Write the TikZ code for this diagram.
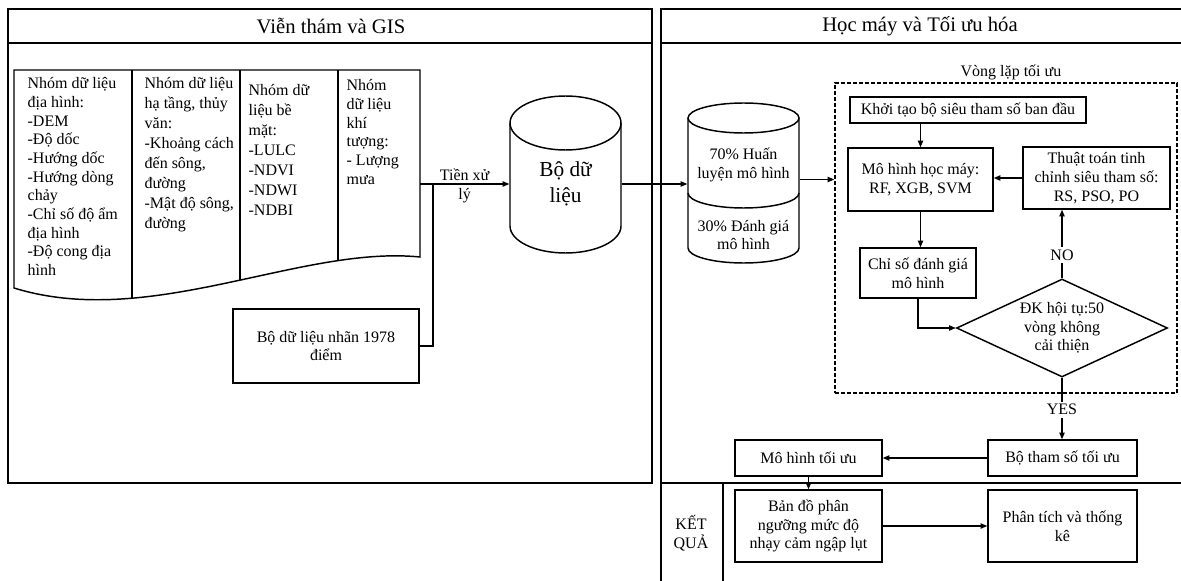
\documentclass[tikz,border=0pt]{standalone}
\usepackage{fontspec}
\setmainfont{Liberation Serif}
\usetikzlibrary{arrows.meta,shapes.geometric}

\begin{document}
\begin{tikzpicture}[x=0.75pt, y=-0.75pt, line width=1pt,
    box/.style={draw, rectangle, line width=1.1pt, inner sep=0pt, align=center, font=\fontsize{12}{14}\selectfont},
    coltext/.style={anchor=north west, inner sep=0pt, align=left},
    txt/.style={inner sep=0pt, align=center, font=\fontsize{12}{14}\selectfont},
    arr/.style={line width=0.9pt, -{Triangle[length=5pt,width=4pt]}},
    title/.style={font=\fontsize{15.5}{18}\selectfont}]
\useasboundingbox (0,0) rectangle (1181,581);

% khung Vien tham va GIS
\draw (8,9) rectangle (652,483);
\draw (8,43) -- (652,43);
\node[title] (tleft) at (331,26) {Viễn thám và GIS};

% khung Hoc may va Toi uu hoa
\draw (1181,9) -- (661,9) -- (661,581);
\draw (661,43) -- (1181,43);
\draw (661,483) -- (1181,483);
\draw (723,483) -- (723,581);
\node[title] (tright) at (920,26) {Học máy và Tối ưu hóa};
\node[txt] (ketqua) at (691,533) {KẾT\\QUẢ};

% cac nhom du lieu
\draw[line width=1.1pt] (14,70) -- (420,70) -- (420,257) .. controls (300,245) and (150,330) .. (14,288) -- cycle;
\begin{scope}
    \clip (14,70) -- (420,70) -- (420,257) .. controls (300,245) and (150,330) .. (14,288) -- cycle;
    \foreach \x in {132,240,338}
        \draw[line width=1.1pt] (\x,70) -- (\x,330);
\end{scope}
\node[coltext, font=\fontsize{12}{14}\selectfont] (nhom1) at (27,77)
    {Nhóm dữ liệu\\địa hình:\\-DEM\\-Độ dốc\\-Hướng dốc\\-Hướng dòng\\chảy\\-Chỉ số độ ẩm\\địa hình\\-Độ cong địa\\hình};
\node[coltext, font=\fontsize{12}{15}\selectfont] (nhom2) at (144,77)
    {Nhóm dữ liệu\\hạ tầng, thủy\\văn:\\-Khoảng cách\\đến sông,\\đường\\-Mật độ sông,\\đường};
\node[coltext, font=\fontsize{12}{15}\selectfont] (nhom3) at (248,84)
    {Nhóm dữ\\liệu bề\\mặt:\\-LULC\\-NDVI\\-NDWI\\-NDBI};
\node[coltext, font=\fontsize{12}{14}\selectfont] (nhom4) at (346,79)
    {Nhóm\\dữ liệu\\khí\\tượng:\\- Lượng\\mưa};
\coordinate (dataE) at (420,184);
\coordinate (join) at (433,184);

\node[box, minimum width=139.5pt, minimum height=55.5pt] (nhan) at (326,346) {Bộ dữ liệu nhãn 1978\\điểm};

% bo du lieu
\draw[line width=1.1pt] (565.5,123) ellipse [x radius=41.625pt, y radius=20.25pt];
\draw[line width=1.1pt] (510,123) -- (510,226) arc[start angle=180, end angle=360, x radius=41.625pt, y radius=20.25pt] -- (621,123);
\node[txt, minimum width=83.25pt, font=\fontsize{16}{19}\selectfont] (db) at (565.5,184) {Bộ dữ\\liệu};

% chia du lieu
\draw[line width=1.1pt] (743.5,118) ellipse [x radius=41.625pt, y radius=11.25pt];
\draw[line width=1.1pt] (688,118) -- (688,248) arc[start angle=180, end angle=360, x radius=41.625pt, y radius=11.25pt] -- (799,118);
\draw[line width=1.1pt] (688,193) arc[start angle=180, end angle=360, x radius=41.625pt, y radius=11.25pt];
\node[txt, minimum width=83.25pt] (split) at (743.5,165) {70\% Huấn\\luyện mô hình};
\node[txt, minimum width=83.25pt] (test) at (743.5,235) {30\% Đánh giá\\mô hình};

% vong lap toi uu
\node[draw, dash pattern=on 3pt off 1.5pt, line width=1.1pt, minimum width=256.5pt, minimum height=232.5pt, inner sep=0pt] (loop) at (1006,238) {};
\node[txt] (looplbl) at (1011,72) {Vòng lặp tối ưu};
\node[box, minimum width=177pt, minimum height=19.5pt] (khoi) at (968,110) {Khởi tạo bộ siêu tham số ban đầu};
\node[box, minimum width=108.75pt, minimum height=47.25pt] (mohinh) at (920.5,179.5) {Mô hình học máy:\\RF, XGB, SVM};
\node[box, minimum width=110.25pt, minimum height=46.5pt] (thuat) at (1096.5,178) {Thuật toán tinh\\chỉnh siêu tham số:\\RS, PSO, PO};
\node[box, minimum width=87pt, minimum height=37.5pt] (chiso) at (918,273) {Chỉ số đánh giá\\mô hình};
\node[draw, diamond, line width=1.1pt, minimum width=158.25pt, minimum height=73.5pt, inner sep=0pt] (dk) at (1062,328) {};
\node[txt] (dktext) at (dk.center) {ĐK hội tụ:50\\vòng không\\cải thiện};

% ket qua
\node[box, minimum width=111.75pt, minimum height=27pt] (bts) at (1062.5,458) {Bộ tham số tối ưu};
\node[box, minimum width=110.25pt, minimum height=27pt] (mhtu) at (808.5,458) {Mô hình tối ưu};
\node[box, minimum width=110.25pt, minimum height=54pt] (bando) at (808.5,526) {Bản đồ phân\\ngưỡng mức độ\\nhạy cảm ngập lụt};
\node[box, minimum width=111.75pt, minimum height=54pt] (ptich) at (1062.5,526) {Phân tích và thống\\kê};

% mui ten
\draw[arr] (dataE) -- (dataE -| db.west) node[txt, midway, yshift=-1.5pt] (tienxl) {Tiền xử\\lý};
\draw[line width=0.9pt] (nhan.east) -| (join);
\draw[arr] (db.east) -- (db.east -| split.west);
\draw[arr] (mohinh.west -| split.east) -- (mohinh.west -| loop.west);
\draw[arr] (mohinh.north |- khoi.south) -- (mohinh.north);
\draw[arr] (thuat.west) -- (thuat.west -| mohinh.east);
\draw[arr] (mohinh.south) -- (mohinh.south |- chiso.north);
\draw[arr] (chiso.south) |- (dk.west);
\draw[arr] (dk.north) -- (dk.north |- thuat.south) node[txt, pos=0.34, fill=white, inner sep=2pt] (no) {NO};
\draw[arr] (dk.south) -- (dk.south |- bts.north) node[txt, pos=0.52, fill=white, inner sep=2pt] (yes) {YES};
\draw[arr] (bts.west) -- (mhtu.east);
\draw[arr] (mhtu.south) -- (bando.north);
\draw[arr] (bando.east) -- (ptich.west);
\end{tikzpicture}
\end{document}
